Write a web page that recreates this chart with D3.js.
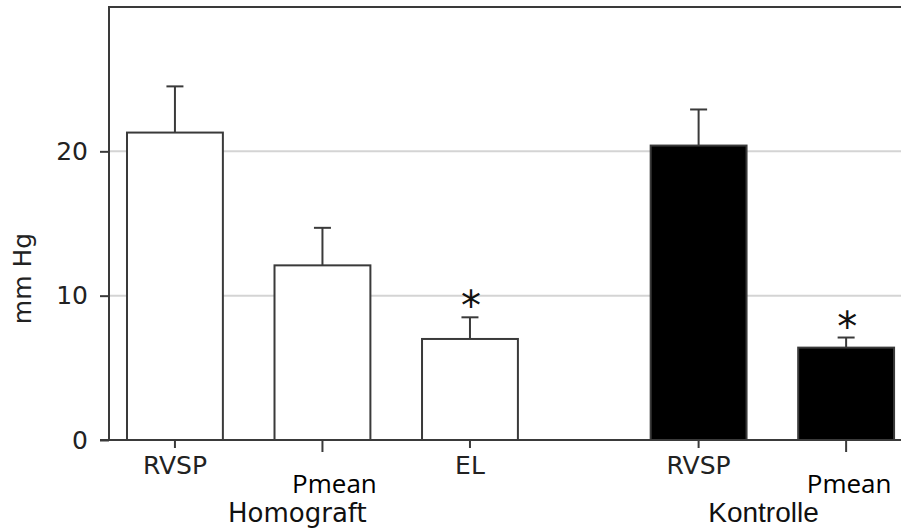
<!DOCTYPE html>
<html>
<head>
<meta charset="utf-8">
<script src="https://cdn.jsdelivr.net/npm/d3@7"></script>
<style>
  body { margin: 0; background: #fff; }
  svg { display: block; }
</style>
</head>
<body>
<svg id="chart" width="901" height="528"></svg>
<script>
const categories = ['RVSP', 'Pmean', 'EL', 'RVSP', 'Pmean'];
const groups = ['Homograft', 'Homograft', 'Homograft', 'Kontrolle', 'Kontrolle'];
const slots = [0, 1, 2, 3.55, 4.55];
const means = [21.3, 12.1, 7.0, 20.4, 6.4];
const errors = [3.2, 2.6, 1.5, 2.5, 0.7];
const significant = [false, false, true, false, true];
const yTicks = [0, 10, 20];
const groupLabels = ['Homograft', 'Kontrolle'];
const groupCenters = [0.83, 3.99];

function drawChart() {
  const svg = d3.select('#chart');

  const width = 901,
    height = 528,
    margin = {top: 7, right: 0, bottom: 88, left: 109};

  const bars = categories.map((c, i) => ({
    name: c,
    group: groups[i],
    slot: slots[i],
    mean: means[i],
    err: errors[i],
    sig: significant[i]
  }));

  const x = d3.scaleLinear()
    .domain([-0.447, 4.922])
    .range([margin.left, width - margin.right]);

  const y = d3.scaleLinear()
    .domain([0, 30])
    .range([height - margin.bottom, margin.top]);

  const barW = x(0.65) - x(0);
  const ink = '#3a3a3a';

  // gridlines
  svg.append('g')
    .selectAll('line')
    .data(yTicks.filter(d => d > 0))
    .join('line')
      .attr('x1', margin.left)
      .attr('x2', width)
      .attr('y1', d => y(d))
      .attr('y2', d => y(d))
      .attr('stroke', '#d4d4d4')
      .attr('stroke-width', 2);

  // bars
  svg.append('g')
    .selectAll('rect')
    .data(bars)
    .join('rect')
      .attr('x', d => x(d.slot) - barW / 2)
      .attr('y', d => y(d.mean))
      .attr('width', barW)
      .attr('height', d => y(0) - y(d.mean))
      .attr('fill', d => d.group === 'Kontrolle' ? '#000' : '#fff')
      .attr('stroke', ink)
      .attr('stroke-width', 2);

  // error bars
  const eb = svg.append('g')
    .attr('stroke', ink)
    .attr('stroke-width', 2);

  eb.selectAll('line.stem')
    .data(bars)
    .join('line')
      .attr('class', 'stem')
      .attr('x1', d => x(d.slot))
      .attr('x2', d => x(d.slot))
      .attr('y1', d => y(d.mean))
      .attr('y2', d => y(d.mean + d.err));

  eb.selectAll('line.cap')
    .data(bars)
    .join('line')
      .attr('class', 'cap')
      .attr('x1', d => x(d.slot) - 8.5)
      .attr('x2', d => x(d.slot) + 8.5)
      .attr('y1', d => y(d.mean + d.err))
      .attr('y2', d => y(d.mean + d.err));

  // significance asterisks
  svg.append('g')
    .selectAll('text')
    .data(bars.filter(d => d.sig))
    .join('text')
      .attr('x', d => x(d.slot) + 1)
      .attr('y', d => y(d.mean + d.err) + 3)
      .attr('text-anchor', 'middle')
      .attr('font-family', 'DejaVu Sans')
      .attr('font-size', 40)
      .attr('fill', '#111')
      .text('*');

  // frame: left and top
  svg.append('path')
    .attr('d', `M${margin.left},${y(0)}V${margin.top}H${width}`)
    .attr('fill', 'none')
    .attr('stroke', ink)
    .attr('stroke-width', 2);

  // y axis
  const yAxis = svg.append('g')
    .attr('transform', `translate(${margin.left}, 0)`)
    .call(d3.axisLeft(y).tickValues(yTicks).tickSize(9).tickPadding(12));
  yAxis.select('.domain').remove();
  yAxis.selectAll('line').attr('stroke', ink).attr('stroke-width', 2);
  yAxis.selectAll('text')
    .attr('font-family', 'DejaVu Sans')
    .attr('font-size', 25)
    .attr('fill', '#222');

  // x axis baseline
  svg.append('line')
    .attr('x1', margin.left - 9)
    .attr('x2', width)
    .attr('y1', y(0))
    .attr('y2', y(0))
    .attr('stroke', ink)
    .attr('stroke-width', 2);

  // x ticks
  svg.append('g')
    .selectAll('line')
    .data(bars)
    .join('line')
      .attr('x1', d => x(d.slot))
      .attr('x2', d => x(d.slot))
      .attr('y1', y(0))
      .attr('y2', d => y(0) + (d.name === 'Pmean' ? 12 : 8))
      .attr('stroke', ink)
      .attr('stroke-width', 2);

  // x category labels
  svg.append('g')
    .selectAll('text')
    .data(bars)
    .join('text')
      .attr('x', d => x(d.slot) + (d.name === 'Pmean' ? (d.group === 'Homograft' ? 12 : 3) : 0))
      .attr('y', d => d.name === 'Pmean' ? y(0) + 53 : y(0) + 34)
      .attr('text-anchor', 'middle')
      .attr('font-family', d => d.name === 'Pmean' ? 'Open Sans' : 'DejaVu Sans')
      .attr('font-size', d => d.name === 'Pmean' ? 26 : 25)
      .attr('fill', d => d.name === 'Pmean' ? '#000' : '#222')
      .text(d => d.name);

  // group labels
  svg.append('g')
    .selectAll('text')
    .data(groupLabels)
    .join('text')
      .attr('x', (d, i) => x(groupCenters[i]))
      .attr('y', y(0) + 82)
      .attr('text-anchor', 'middle')
      .attr('font-family', d => d === 'Kontrolle' ? 'Liberation Sans' : 'DejaVu Sans')
      .attr('font-size', d => d === 'Kontrolle' ? 28 : 26)
      .attr('fill', '#111')
      .text(d => d);

  // y axis title
  svg.append('text')
    .attr('transform', `translate(31, ${(y(0) + margin.top) / 2 + 55}) rotate(-90)`)
    .attr('text-anchor', 'middle')
    .attr('font-family', 'DejaVu Sans')
    .attr('font-size', 25)
    .attr('fill', '#222')
    .text('mm Hg');
}

drawChart();
</script>
</body>
</html>
